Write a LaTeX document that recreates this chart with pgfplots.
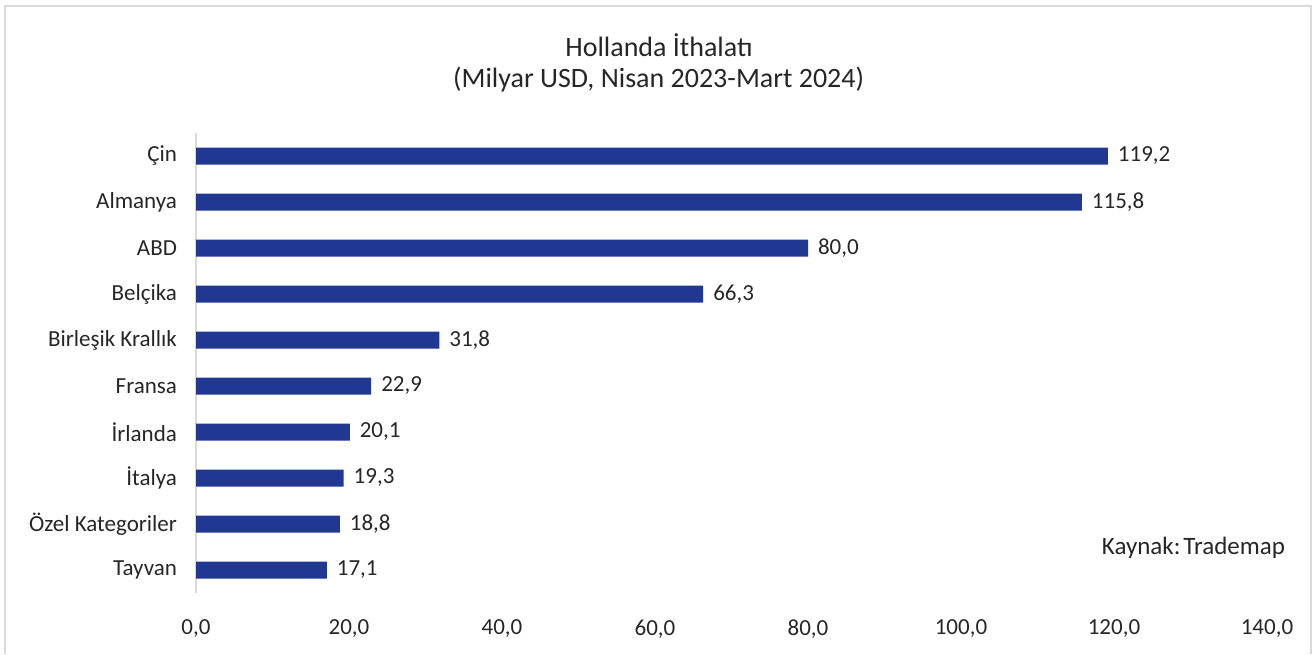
\documentclass[border=0pt]{standalone}
\usepackage{pgfplots}
\pgfplotsset{compat=1.18}
\usepackage{fontspec}
\setmainfont{Carlito}
\definecolor{barblue}{HTML}{213893}
\definecolor{txt}{HTML}{262626}
\definecolor{frame}{HTML}{D9D9D9}
\begin{document}
\begin{tikzpicture}
\path[use as bounding box] (0,0) rectangle (658pt,327pt);
\draw[frame, line width=1pt] (2.5pt,0) -- (2.5pt,324pt) -- (655.5pt,324pt) -- (655.5pt,0);
\begin{axis}[
  at={(98pt,30.5pt)}, anchor=south west,
  scale only axis, width=535.5pt, height=230pt,
  xbar, bar width=8.5pt,
  xmin=0, xmax=140, ymin=-0.5, ymax=9.5,
  xtick={0,20,...,140},
  ytick={0,...,9},
  yticklabels={Tayvan,Özel Kategoriler,İtalya,İrlanda,Fransa,Birleşik Krallık,Belçika,ABD,Almanya,Çin},
  axis y line*=left, axis x line*=bottom,
  x axis line style={draw=none},
  y axis line style={draw=frame, line width=1pt},
  major tick length=0pt,
  /pgf/number format/assume math mode=true,
  tick label style={font=\fontsize{11.5}{13.8}\selectfont, text=txt},
  xticklabel style={/pgf/number format/.cd, fixed, fixed zerofill, precision=1, use comma, /tikz/.cd, yshift=-10pt},
  yticklabel style={xshift=-6pt},
  point meta=x,
  nodes near coords={\pgfmathprintnumber[fixed,fixed zerofill,precision=1,use comma]{\pgfplotspointmeta}},
  every node near coord/.append style={font=\fontsize{11.5}{13.8}\selectfont, text=txt, xshift=1.5pt},
  clip=false,
]
\addplot[fill=barblue, draw=none] coordinates {
  (17.1,0) (18.8,1) (19.3,2) (20.1,3) (22.9,4) (31.8,5) (66.3,6) (80.0,7) (115.8,8) (119.2,9)
};
\end{axis}
\node[text=txt, font=\fontsize{14}{16.8}\selectfont] at (329.5pt,304.5pt) {Hollanda İthalatı};
\node[text=txt, font=\fontsize{14}{16.8}\selectfont] at (329.3pt,287pt) {(Milyar USD, Nisan 2023-Mart 2024)};
\node[text=txt, font=\fontsize{12.5}{15}\selectfont, anchor=east] at (646pt,53pt) {Kaynak:\hspace{0.12em}Trademap};
\end{tikzpicture}
\end{document}
